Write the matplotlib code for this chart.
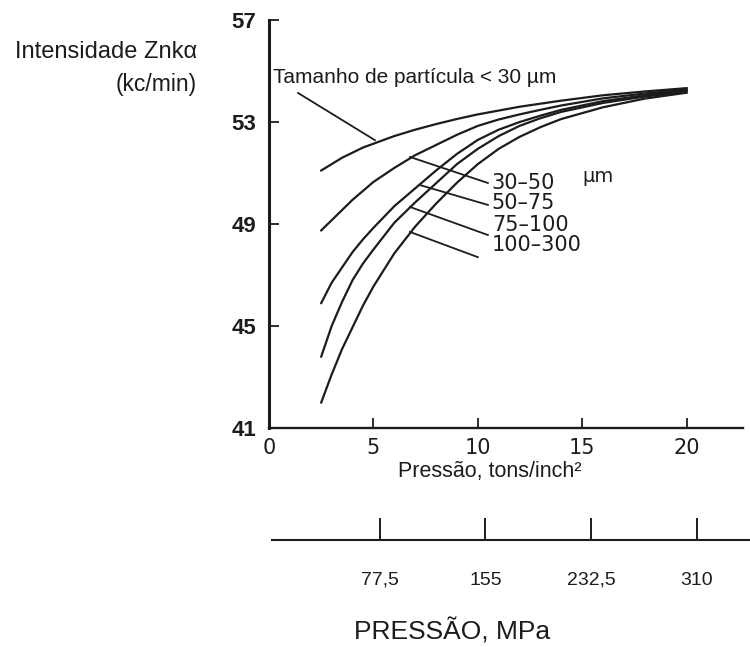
import matplotlib
matplotlib.use("Agg")
import matplotlib.pyplot as plt

# pressao (tons/inch^2) e intensidade Zn k-alpha (kc/min)
pressure = [2.5, 3, 3.5, 4, 4.5, 5, 6, 7, 8, 9, 10, 11, 12, 13, 14, 16, 18, 20]

size_lt30 = [51.1, 51.35, 51.6, 51.8, 52.0, 52.15, 52.45, 52.7, 52.92, 53.12, 53.3, 53.45,
             53.6, 53.72, 53.84, 54.05, 54.2, 54.33]
size_30_50 = [48.75, 49.15, 49.55, 49.95, 50.3, 50.65, 51.2, 51.7, 52.1, 52.5, 52.85, 53.1,
              53.3, 53.48, 53.65, 53.93, 54.12, 54.28]
size_50_75 = [45.9, 46.7, 47.3, 47.9, 48.4, 48.85, 49.7, 50.4, 51.1, 51.75, 52.3, 52.7,
              53.0, 53.25, 53.48, 53.82, 54.05, 54.25]
size_75_100 = [43.8, 45.0, 45.95, 46.8, 47.45, 48.0, 49.05, 49.85, 50.6, 51.35, 51.95, 52.45,
               52.85, 53.15, 53.4, 53.75, 54.0, 54.2]
size_100_300 = [42.0, 43.1, 44.1, 44.95, 45.8, 46.55, 47.85, 48.9, 49.8, 50.62, 51.35, 51.95,
                52.42, 52.8, 53.12, 53.58, 53.92, 54.15]

curves = [size_lt30, size_30_50, size_50_75, size_75_100, size_100_300]
curve_labels = ["30–50", "50–75", "75–100", "100–300"]

x_ticks = [0, 5, 10, 15, 20]
y_ticks = [41, 45, 49, 53, 57]
mpa_ticks = [77.5, 155, 232.5, 310]
mpa_labels = ["77,5", "155", "232,5", "310"]

ink = "#1c1c1c"
arial = "Liberation Sans"

fig = plt.figure(figsize=(7.5, 6.47), dpi=100)
ax = fig.add_axes([0.3587, 0.3385, 0.632, 0.6305])

for ys in curves:
    ax.plot(pressure, ys, color=ink, lw=1.6)

ax.set_xlim(0, 22.7)
ax.set_ylim(41, 57)
ax.spines["top"].set_visible(False)
ax.spines["right"].set_visible(False)
ax.spines["left"].set_linewidth(2.2)
ax.spines["bottom"].set_linewidth(1.7)
ax.spines["left"].set_color(ink)
ax.spines["bottom"].set_color(ink)

ax.set_xticks(x_ticks)
ax.set_yticks(y_ticks)
ax.tick_params(axis="x", direction="in", length=7, width=1.3, pad=7, colors=ink, labelsize=15)
ax.tick_params(axis="y", direction="in", length=7, width=1.3, pad=9, colors=ink, labelsize=16)
for lab in ax.get_yticklabels():
    lab.set_fontfamily(arial)
    lab.set_fontweight("bold")
for lab in ax.get_xticklabels():
    lab.set_fontfamily("DejaVu Sans")

# legenda das curvas (linhas de chamada)
ax.text(0.19, 54.73, "Tamanho de partícula < 30 µm", fontsize=15, family=arial,
        color=ink, va="center", ha="left")
ax.plot([1.39, 5.07], [54.14, 52.29], color=ink, lw=1.3)

leader_start = [(6.75, 51.63), (7.22, 50.53), (6.75, 49.67), (6.75, 48.69)]
leader_end = [(10.48, 50.61), (10.48, 49.75), (10.48, 48.57), (10.0, 47.7)]
label_y = [50.6, 49.82, 48.96, 48.18]
for lab, p0, p1, ly in zip(curve_labels, leader_start, leader_end, label_y):
    ax.plot([p0[0], p1[0]], [p0[1], p1[1]], color=ink, lw=1.3)
    ax.text(10.67, ly, lab, fontsize=15, family="DejaVu Sans", color=ink,
            va="center", ha="left")
ax.text(15.0, 50.85, "µm", fontsize=14, family="DejaVu Sans", color=ink,
        va="center", ha="left")

fig.text(197 / 750, 1 - 52 / 647, "Intensidade Znkα", fontsize=17, family=arial,
         color=ink, ha="right", va="center")
fig.text(197 / 750, 1 - 85 / 647, "(kc/min)", fontsize=16.5, family=arial,
         color=ink, ha="right", va="center")
fig.text(490 / 750, 1 - 472 / 647, "Pressão, tons/inch²", fontsize=15.5, family=arial,
         color=ink, ha="center", va="center")

# segunda escala em MPa
ax2 = fig.add_axes([272 / 750, 1 - 540 / 647, 1 - 272 / 750, 0.05])
ax2.set_xlim(-1.5, 349)
ax2.set_yticks([])
for side in ["top", "right", "left"]:
    ax2.spines[side].set_visible(False)
ax2.spines["bottom"].set_linewidth(1.5)
ax2.spines["bottom"].set_color(ink)
ax2.patch.set_alpha(0)
ax2.set_xticks(mpa_ticks)
ax2.set_xticklabels(mpa_labels, family=arial)
ax2.tick_params(axis="x", direction="in", length=16, width=1.4, pad=23, colors=ink, labelsize=14)

fig.text(452 / 750, 1 - 631 / 647, "PRESSÃO, MPa", fontsize=19, family=arial,
         color=ink, ha="center", va="center")

fig.savefig("out.png", dpi=100)
